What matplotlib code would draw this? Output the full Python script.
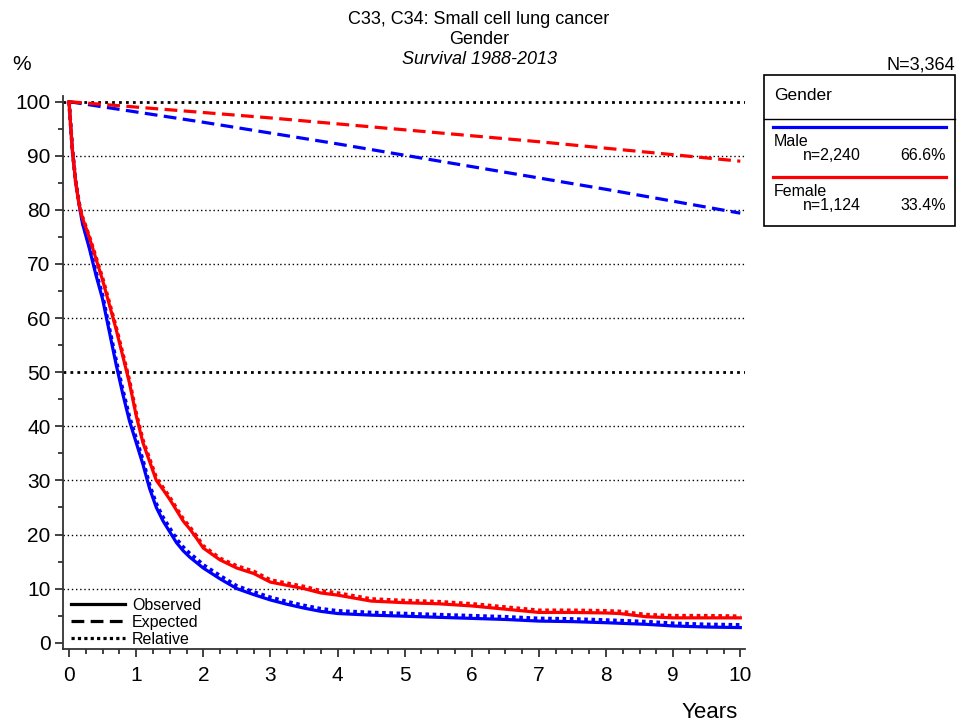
import matplotlib
matplotlib.use('Agg')
import matplotlib.pyplot as plt
from matplotlib.lines import Line2D
from matplotlib.patches import Rectangle

plt.rcParams['font.family'] = ['Liberation Sans', 'DejaVu Sans']

# survival time points (years)
years = [0, 0.05, 0.1, 0.15, 0.2, 0.3, 0.4, 0.5, 0.6, 0.7, 0.8, 0.9, 1.0, 1.1, 1.2, 1.3,
         1.4, 1.5, 1.6, 1.7, 1.8, 1.9, 2.0, 2.25, 2.5, 2.75, 3.0, 3.25, 3.5, 3.75, 4.0,
         4.5, 5.0, 5.5, 6.0, 6.5, 7.0, 7.5, 8.0, 8.2, 8.6, 9.0, 9.5, 10.0]

male_obs = [100, 91, 85, 81, 77.5, 73, 68, 63.5, 57.5, 51.5, 46, 41, 37, 33, 28.5, 25,
            22.5, 20.5, 18.5, 17, 15.8, 14.8, 13.8, 11.8, 10, 8.9, 7.9, 7.1, 6.4, 5.8, 5.4,
            5.1, 4.9, 4.7, 4.5, 4.3, 4.0, 3.9, 3.7, 3.6, 3.4, 3.1, 2.9, 2.8]
male_rel = [100, 91.1, 85.2, 81.3, 77.8, 73.5, 68.6, 64.2, 58.2, 52.3, 46.8, 41.8, 37.8, 33.8,
            29.2, 25.7, 23.2, 21.2, 19.2, 17.7, 16.5, 15.5, 14.4, 12.4, 10.5, 9.4, 8.4, 7.6,
            6.9, 6.3, 5.9, 5.6, 5.4, 5.2, 5.0, 4.8, 4.5, 4.4, 4.2, 4.1, 3.9, 3.6, 3.4, 3.3]

female_obs = [100, 91, 85, 81, 78.5, 75, 71, 67, 62.5, 58, 53, 48, 42, 37, 33.5, 30,
              28.3, 26.5, 24.5, 22.5, 21, 19.3, 17.5, 15.3, 13.8, 12.8, 11.2, 10.6, 10, 9.2, 8.8,
              7.7, 7.4, 7.2, 6.8, 6.2, 5.6, 5.6, 5.5, 5.4, 4.8, 4.6, 4.6, 4.6]
female_rel = [100, 91.1, 85.1, 81.2, 78.7, 75.2, 71.3, 67.4, 62.9, 58.4, 53.5, 48.5, 42.5, 37.5,
              34.0, 30.5, 28.7, 26.9, 24.9, 22.9, 21.4, 19.7, 17.9, 15.6, 14.2, 13.2, 11.6, 11.0,
              10.4, 9.6, 9.2, 8.1, 7.8, 7.6, 7.2, 6.6, 6.0, 6.0, 5.9, 5.8, 5.2, 5.0, 5.0, 4.9]

exp_years = [0, 1, 2, 3, 4, 5, 6, 7, 8, 9, 10]
male_exp = [100, 98.1, 96.2, 94.2, 92.2, 90.1, 88.0, 85.9, 83.8, 81.6, 79.4]
female_exp = [100, 99.0, 98.0, 97.0, 95.9, 94.8, 93.7, 92.6, 91.4, 90.2, 89.0]

groups = ['Male', 'Female']
counts = ['n=2,240', 'n=1,124']
shares = ['66.6%', '33.4%']
colors = ['#0000ff', '#ff0000']

W, H = 958, 728
fig = plt.figure(figsize=(W / 100, H / 100), dpi=100)
ax = fig.add_axes([63 / W, 1 - 649 / H, (745 - 63) / W, (649 - 96) / H])


def fx(px):
    return px / W


def fy(py):
    return 1 - py / H


lw = 2.3
series = [(male_obs, male_rel, male_exp, colors[0]),
          (female_obs, female_rel, female_exp, colors[1])]

# grid lines
for v in range(10, 101, 10):
    ax.axhline(v, color='black', lw=2.0 if v in (50, 100) else 1.0,
               dashes=(1, 1.5) if v in (50, 100) else (1, 2), zorder=1)

for obs, rel, exp, c in series:
    ax.plot(exp_years, exp, color=c, lw=lw, dashes=(4, 2), dash_capstyle='butt', zorder=3)
    ax.plot(years, obs, color=c, lw=lw, zorder=3, solid_joinstyle='miter')
    ax.plot(years, rel, color=c, lw=lw + 0.3, dashes=(1, 1), dash_capstyle='butt', zorder=3)

ax.set_xlim(-0.09, 10.07)
ax.set_ylim(-1.16, 101.05)
ax.set_xticks(range(0, 11))
ax.set_xticks([i * 0.25 for i in range(41)], minor=True)
ax.set_yticks(range(0, 101, 10))
ax.set_yticks(range(5, 100, 10), minor=True)
ax.tick_params(axis='both', which='major', labelsize=15, length=6, width=1.3, color='#333333')
ax.tick_params(axis='both', which='minor', length=3.5, width=1.3, color='#333333')
ax.tick_params(axis='x', pad=6)
ax.tick_params(axis='y', pad=3)
for s in ['top', 'right']:
    ax.spines[s].set_visible(False)
for s in ['left', 'bottom']:
    ax.spines[s].set_linewidth(1.3)
    ax.spines[s].set_color('#333333')

# titles
fig.text(0.5, fy(20), 'C33, C34: Small cell lung cancer', ha='center', va='center', fontsize=13)
fig.text(0.5, fy(40), 'Gender', ha='center', va='center', fontsize=13)
fig.text(0.5, fy(60), 'Survival 1988-2013', ha='center', va='center', fontsize=13, style='italic')
fig.text(fx(12), fy(65), '%', ha='left', va='center', fontsize=15)
fig.text(fx(955), fy(65), 'N=3,364', ha='right', va='center', fontsize=13)
fig.text(fx(738), fy(712), 'Years', ha='right', va='center', fontsize=16)

# group legend box
fig.add_artist(Rectangle((fx(764), fy(226)), fx(955) - fx(764), fy(75) - fy(226),
                         transform=fig.transFigure, fill=False, ec='black', lw=1.2))
fig.add_artist(Line2D([fx(764), fx(955)], [fy(119), fy(119)], color='black', lw=1.0))
fig.text(fx(774), fy(96), 'Gender', ha='left', va='center', fontsize=12.5)
for i, (g, n, p, c) in enumerate(zip(groups, counts, shares, colors)):
    y0 = 127 + i * 50
    fig.add_artist(Line2D([fx(773), fx(946)], [fy(y0), fy(y0)], color=c, lw=lw))
    fig.text(fx(774), fy(y0 + 14), g, ha='left', va='center', fontsize=11.5)
    fig.text(fx(803), fy(y0 + 29), n, ha='left', va='center', fontsize=11.5)
    fig.text(fx(946), fy(y0 + 29), p, ha='right', va='center', fontsize=11.5)

# line style legend
styles = [('Observed', None), ('Expected', (4, 2)), ('Relative', (1, 1))]
for i, (lab, d) in enumerate(styles):
    y0 = 604 + i * 17
    ln = Line2D([fx(71), fx(125)], [fy(y0), fy(y0)], color='black', lw=lw, dash_capstyle='butt')
    if d:
        ln.set_dashes(d)
    fig.add_artist(ln)
    fig.text(fx(132), fy(y0 + 1), lab, ha='left', va='center', fontsize=11.5)

fig.savefig('out.png', dpi=100)
